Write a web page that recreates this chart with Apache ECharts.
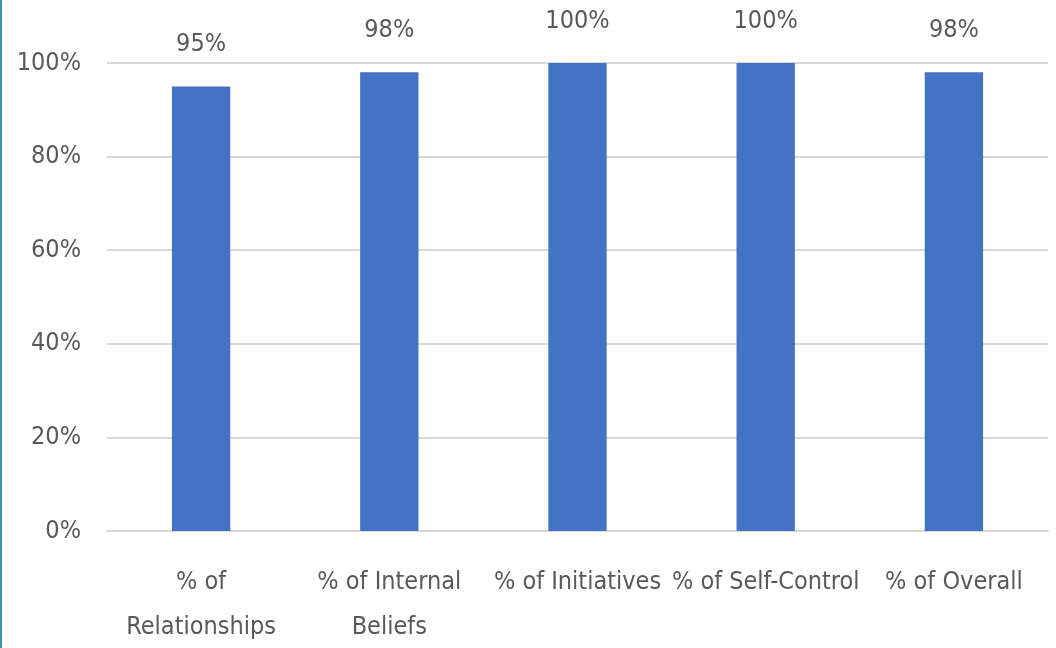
<!DOCTYPE html>
<html>
<head>
<meta charset="utf-8">
<style>
  html, body { margin: 0; padding: 0; background: #fff; }
  #chart { width: 1056px; height: 648px; }
</style>
<script src="https://cdn.jsdelivr.net/npm/echarts@6/dist/echarts.min.js"></script>
</head>
<body>
<div id="chart"></div>
<script>
// 分类与数据
const categories = ["% of\nRelationships", "% of Internal\nBeliefs", "% of Initiatives", "% of Self-Control", "% of Overall"];
const values = [0.95, 0.98, 1.0, 1.0, 0.98];
const yTicks = [0, 0.2, 0.4, 0.6, 0.8, 1.0];

const font = "'Liberation Sans Narrow', 'DejaVu Sans Condensed', sans-serif";
const textColor = "#595959";

function pct(v) {
  return Math.round(v * 100) + "%";
}

let chart = echarts.init(document.getElementById("chart"));
let option = {
  backgroundColor: "#fff",
  animation: false,
  grid: { left: 107, right: 8, top: 63, bottom: 117, containLabel: false, outerBoundsMode: "none" },
  graphic: [
    {
      type: "rect",
      left: 0,
      top: 0,
      shape: { width: 2, height: 648 },
      style: { fill: "#3a8fb7" },
    },
  ],
  xAxis: {
    type: "category",
    data: categories,
    axisLine: { show: true, lineStyle: { color: "#d9d9d9", width: 2 } },
    axisTick: { show: false },
    axisLabel: {
      color: textColor,
      fontFamily: font,
      fontSize: 25,
      lineHeight: 45,
      margin: 29,
      interval: 0,
    },
  },
  yAxis: {
    type: "value",
    min: yTicks[0],
    max: yTicks[yTicks.length - 1],
    interval: 0.2,
    axisLine: { show: false },
    axisTick: { show: false },
    splitLine: { lineStyle: { color: "#d9d9d9", width: 2 } },
    axisLabel: {
      color: textColor,
      fontFamily: font,
      fontSize: 25,
      margin: 26,
      formatter: (v) => pct(v),
    },
  },
  series: [
    {
      type: "bar",
      data: values,
      barWidth: "31%",
      itemStyle: { color: "#4472c4" },
      label: {
        show: true,
        position: "top",
        distance: 29,
        color: textColor,
        fontFamily: font,
        fontSize: 25,
        formatter: (p) => pct(p.value),
      },
    },
  ],
};
chart.setOption(option);
</script>
</body>
</html>
